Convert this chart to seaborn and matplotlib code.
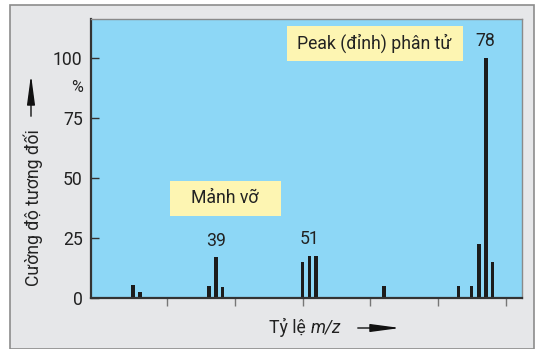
import numpy as np
import pandas as pd
import matplotlib
matplotlib.use("Agg")
import matplotlib.pyplot as plt
from matplotlib.patches import Rectangle, FancyArrowPatch
import seaborn as sns

# peaks (m/z position, relative intensity %)
mz = [25, 26, 36.2, 37.2, 38.2, 50, 51, 52, 62, 73, 74.9, 76, 77, 78]
intensity = [5.5, 2.6, 5.0, 17.0, 4.7, 15.0, 17.5, 17.5, 4.8, 4.8, 4.8, 22.5, 100, 15.0]
# labelled peaks: index into the arrays above, and the text shown
label_idx = [3, 6, 12]
label_txt = ["39", "51", "78"]
y_ticks = [0, 25, 50, 75, 100]
x_ticks = [30, 40, 50, 60, 70, 80]

df = pd.DataFrame({"mz": mz, "intensity": intensity})

sns.set_theme(style="ticks")
plt.rcParams["font.family"] = ["Roboto", "DejaVu Sans"]

txt = "#222222"
fs = 12.7
fig = plt.figure(figsize=(5.38, 3.49), dpi=100)
fig.patch.set_facecolor("white")
W, H = 538, 349

# grey card behind the chart
fig.patches.append(Rectangle((10 / W, 0), 524 / W, 1 - 5 / H, transform=fig.transFigure,
                             facecolor="#e6e7e9", edgecolor="#8c8c8c", linewidth=1.2, zorder=-5))

ax = fig.add_axes([91 / W, 1 - 298 / H, (522 - 91) / W, (298 - 19) / H])
ax.set_facecolor("#8dd7f6")

sns.barplot(data=df, x="mz", y="intensity", native_scale=True, width=0.55,
            color="#1c1c1c", saturation=1, linewidth=0, ax=ax)

ax.set_xlim(18.8, 82.35)
ax.set_ylim(0, 116.3)
ax.set_xticks(x_ticks)
ax.set_xticklabels([])
ax.set_yticks(y_ticks)
ax.set_yticklabels([str(t) for t in y_ticks])
ax.set_xlabel("")
ax.set_ylabel("")
ax.tick_params(axis="x", direction="out", length=6, width=1, color="#777777")
ax.tick_params(axis="y", direction="in", length=6, width=1, color="#333333",
               labelsize=fs, labelcolor=txt, pad=6)
for s in ["left", "bottom"]:
    ax.spines[s].set_color("#333333")
    ax.spines[s].set_linewidth(1.6)
for s in ["top", "right"]:
    ax.spines[s].set_visible(True)
    ax.spines[s].set_color("#8a8a8a")
    ax.spines[s].set_linewidth(1.0)

# peak labels
for i, t in zip(label_idx, label_txt):
    ax.annotate(t, (mz[i], intensity[i]), xytext=(0, 12), textcoords="offset points",
                ha="center", va="center", fontsize=fs, color=txt)

# yellow annotation boxes
box_col = "#fdf5b2"
fig.patches.append(Rectangle((287 / W, 1 - 61 / H), 176 / W, 35 / H, transform=fig.transFigure,
                             facecolor=box_col, edgecolor="none", zorder=3))
fig.text(374 / W, 1 - 43 / H, "Peak (đỉnh) phân tử", ha="center", va="center",
         fontsize=fs, color=txt, zorder=4)
fig.patches.append(Rectangle((170 / W, 1 - 216 / H), 111 / W, 35 / H, transform=fig.transFigure,
                             facecolor=box_col, edgecolor="none", zorder=3))
fig.text(225 / W, 1 - 198 / H, "Mảnh vỡ", ha="center", va="center",
         fontsize=fs, color=txt, zorder=4)

# y axis title with arrow
fig.text(33 / W, 1 - 208 / H, "Cường độ tương đối", rotation=90, ha="center", va="center",
         fontsize=fs, color=txt)
fig.text(77 / W, 1 - 87 / H, "%", ha="center", va="center", fontsize=11.5, color=txt)
fig.add_artist(FancyArrowPatch(
    (31 / W, 1 - 119 / H), (31 / W, 1 - 72 / H), transform=fig.transFigure,
    arrowstyle="-|>,head_length=18,head_width=2.4", color="#111111", lw=1.0, mutation_scale=1))

# x axis title with arrow
fig.text(310 / W, 1 - 327 / H, "Tỷ lệ ", ha="right", va="center", fontsize=fs, color=txt)
fig.text(311 / W, 1 - 327 / H, "m/z", ha="left", va="center", fontsize=fs, color=txt, style="italic")
fig.add_artist(FancyArrowPatch(
    (355 / W, 1 - 328 / H), (403 / W, 1 - 328 / H), transform=fig.transFigure,
    arrowstyle="-|>,head_length=18,head_width=2.4", color="#111111", lw=1.0, mutation_scale=1))

fig.savefig("out.png", dpi=100, facecolor=fig.get_facecolor())
